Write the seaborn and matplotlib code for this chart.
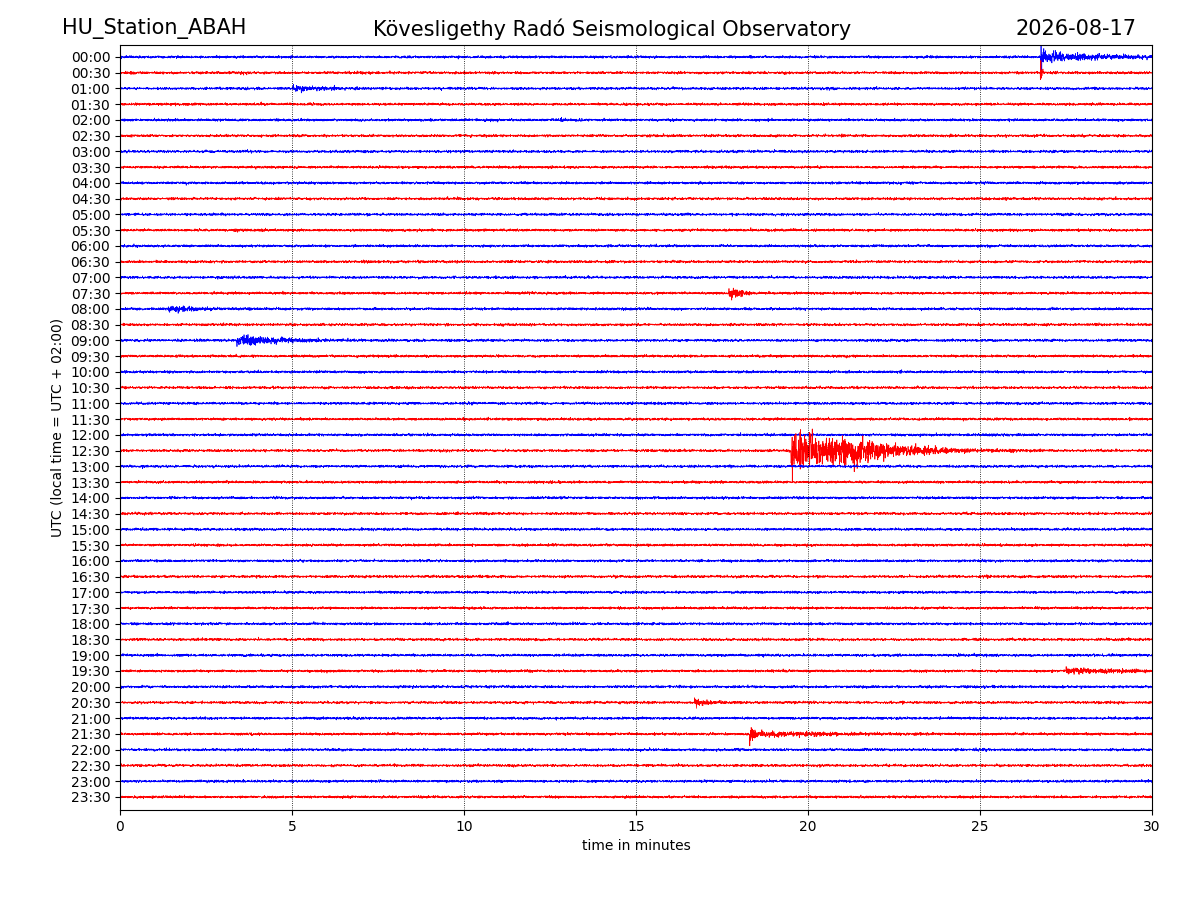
import numpy as np
import pandas as pd
import matplotlib
matplotlib.use("Agg")
import matplotlib.pyplot as plt
import seaborn as sns

station = "HU_Station_ABAH"
title = "Kövesligethy Radó Seismological Observatory"
date = "2026-08-17"
row_labels = [f"{h:02d}:{m:02d}" for h in range(24) for m in (0, 30)]
row_colors = ["blue", "red"]
noise_amp = 0.035  # in row units

# events: (row, onset minute, peak amplitude in rows, decay minutes)
event_rows = [0, 0, 1, 1, 1, 2, 15, 16, 18, 25, 25, 39, 41, 43, 43, 11, 4]
event_onsets = [26.75, 26.75, 26.75, 0.3, 3.5, 5.0, 17.7, 1.4, 3.4, 19.5, 20.9, 27.5, 16.7, 18.3, 18.3, 3.3, 12.8]
event_amps = [1.6, 0.3, 0.9, 0.12, 0.12, 0.2, 0.45, 0.25, 0.35, 1.2, 0.8, 0.22, 0.3, 0.6, 0.2, 0.1, 0.1]
event_decays = [0.06, 2.5, 0.04, 0.3, 0.3, 1.2, 0.4, 1.0, 1.5, 2.0, 1.5, 2.0, 0.5, 0.15, 3.0, 0.5, 0.4]

n = 6000
t = np.linspace(0, 30, n)
rng = np.random.default_rng(3)

fig = plt.figure(figsize=(12, 9), dpi=100)
ax = fig.add_axes([0.1, 0.1, 0.86, 0.85])

for i in range(len(row_labels)):
    y = noise_amp * rng.standard_normal(n)
    for r, on, a, d in zip(event_rows, event_onsets, event_amps, event_decays):
        if r == i:
            env = np.where(t >= on, a * np.exp(-(t - on) / d), 0)
            y = y + env * rng.standard_normal(n) * 0.5
    df = pd.DataFrame({"t": t, "y": i + y})
    sns.lineplot(data=df, x="t", y="y", ax=ax, color=row_colors[i % 2],
                 linewidth=0.5, estimator=None, sort=False)

ax.set_xlim(0, 30)
ax.set_ylim(47.83, -0.76)
ax.set_yticks(range(len(row_labels)))
ax.set_yticklabels(row_labels)
ax.set_xticks([0, 5, 10, 15, 20, 25, 30])
for xv in [5, 10, 15, 20, 25]:
    ax.axvline(xv, color="black", linestyle=":", linewidth=0.6)
ax.set_xlabel("time in minutes")
ax.set_ylabel("UTC (local time = UTC + 02:00)")
fig.text(0.052, 0.968, station, fontsize=15, ha="left", va="center")
fig.text(0.51, 0.968, title, fontsize=15, ha="center", va="center")
fig.text(0.947, 0.968, date, fontsize=15, ha="right", va="center")
fig.savefig("out.png", dpi=100)
